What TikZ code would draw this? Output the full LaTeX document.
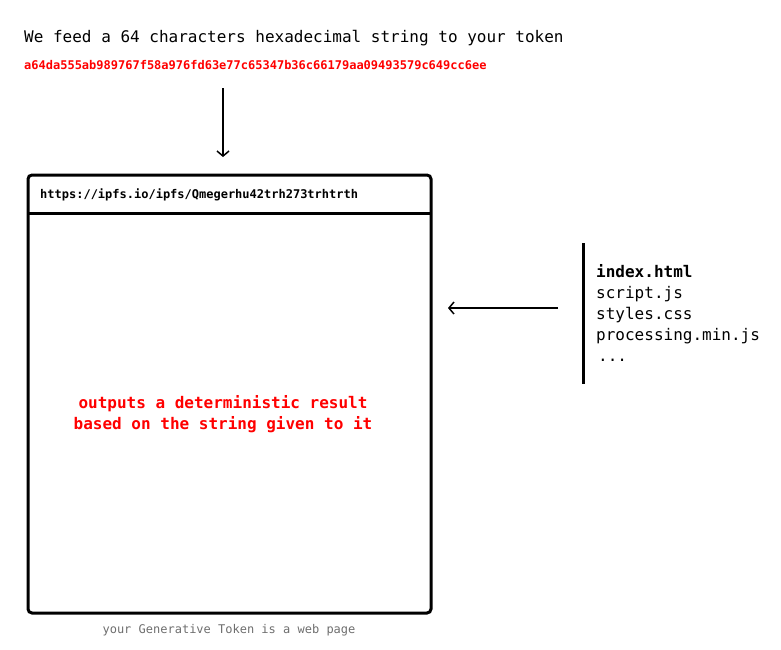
\documentclass[tikz,border=0pt]{standalone}
\usepackage{fontspec}
\setmonofont{DejaVu Sans Mono}
\usetikzlibrary{arrows.meta}
\definecolor{hexred}{RGB}{255,0,0}
\definecolor{capgray}{RGB}{110,110,110}
\tikzset{
  mono/.style={font=\ttfamily\fontsize{16}{21}\selectfont, inner sep=0pt},
  monosmall/.style={font=\ttfamily\bfseries\fontsize{12}{14}\selectfont, inner sep=0pt},
  flow/.style={line width=1.5pt, -{Straight Barb[length=5pt,width=12pt]}}
}
\begin{document}
\begin{tikzpicture}[x=1pt,y=-1pt]
\useasboundingbox (0,0) rectangle (781,649);
\node[mono, anchor=west] (intro) at (24,38) {We feed a 64 characters hexadecimal string to your token};
\node[monosmall, anchor=west, text=hexred] (hex) at (24,65) {a64da555ab989767f58a976fd63e77c65347b36c66179aa09493579c649cc6ee};
%%%%%%%%%%%%%%%%
\coordinate (feedtop) at (223,88);
\coordinate (feedend) at (223,157);
\draw[flow] (feedtop) -- (feedend);
%%%%%%%%%%%%%%%%
\draw[line width=3pt, rounded corners=4pt] (28,175) rectangle (431,613);
\draw[line width=3pt] (28,213) -- (431,213);
\node[monosmall, anchor=west] (url) at (40,195) {https://ipfs.io/ipfs/Qmegerhu42trh273trhtrth};
\node[mono, font=\ttfamily\bfseries\fontsize{16}{21}\selectfont, align=center, text=hexred] (result) at (223,414) {outputs a deterministic result\\based on the string given to it};
\node[monosmall, font=\ttfamily\fontsize{12}{14}\selectfont, text=capgray] (caption) at (229,630) {your Generative Token is a web page};
%%%%%%%%%%%%%%%%
\draw[line width=3pt] (583,243) -- (583,384);
\node[mono, anchor=north west, align=left] (files) at (596,264) {\textbf{index.html}\\script.js\\styles.css\\processing.min.js\\\kern2pt...};
\coordinate (filesout) at (558,308);
\coordinate (boxin) at (448,308);
\draw[flow] (filesout) -- (boxin);
\end{tikzpicture}
\end{document}
